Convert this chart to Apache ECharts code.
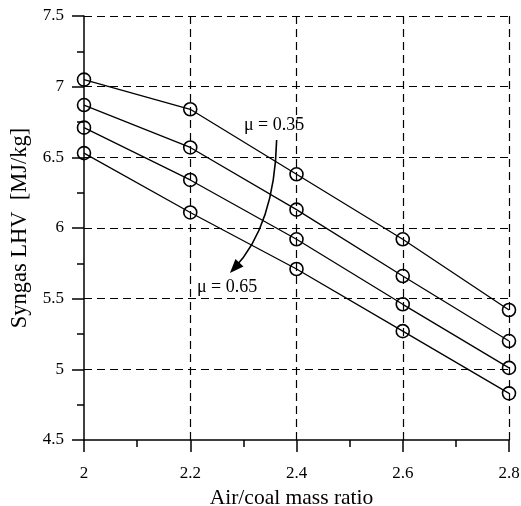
<!DOCTYPE html>
<html><head><meta charset="utf-8">
<script src="https://cdn.jsdelivr.net/npm/echarts@6/dist/echarts.min.js"></script>
<style>html,body{margin:0;padding:0;background:#fff}#c{width:521px;height:506px}</style>
</head><body><div id="c"></div>
<script>
const xValues = [2, 2.2, 2.4, 2.6, 2.8];
const mu035 = [7.05, 6.84, 6.38, 5.92, 5.42];
const mu045 = [6.87, 6.57, 6.13, 5.66, 5.20];
const mu055 = [6.71, 6.34, 5.92, 5.46, 5.01];
const mu065 = [6.53, 6.11, 5.71, 5.27, 4.83];
const seriesNames = ['μ = 0.35', 'μ = 0.45', 'μ = 0.55', 'μ = 0.65'];
const seriesValues = [mu035, mu045, mu055, mu065];
const xTitle = 'Air/coal mass ratio';
const yTitle = 'Syngas LHV  [MJ/kg]';
const topLabel = 'μ = 0.35';
const bottomLabel = 'μ = 0.65';

const FONT = '"Liberation Serif", "DejaVu Serif", serif';
const chart = echarts.init(document.getElementById('c'), null, {renderer: 'canvas'});
const dash = {color: '#000', width: 1.2, type: [8, 5]};
const axisCommon = {
  axisLine: {show: true, onZero: false, lineStyle: {color: '#000', width: 1.5}},
  axisTick: {show: true, length: 12, lineStyle: {color: '#000', width: 1.5}},
  minorTick: {show: true, splitNumber: 2, length: 7, lineStyle: {color: '#000', width: 1.5}},
  splitLine: {show: true, showMinLine: false, lineStyle: dash},
  axisLabel: {color: '#000', fontFamily: FONT, fontSize: 17},
  nameLocation: 'middle'
};
chart.setOption({
  animation: false,
  backgroundColor: '#fff',
  grid: {left: 84, right: 12, top: 16, bottom: 66, containLabel: false, outerBoundsMode: 'none'},
  xAxis: Object.assign({}, axisCommon, {
    type: 'value', min: 2, max: 2.8, interval: 0.2,
    name: xTitle, nameGap: 41,
    nameTextStyle: {color: '#000', fontFamily: FONT, fontSize: 21.5, padding: [0, 10, 0, 0]},
    axisLabel: Object.assign({}, axisCommon.axisLabel, {margin: 25})
  }),
  yAxis: Object.assign({}, axisCommon, {
    type: 'value', min: 4.5, max: 7.5, interval: 0.5,
    name: yTitle, nameGap: 51,
    nameTextStyle: {color: '#000', fontFamily: FONT, fontSize: 22.5},
    axisLabel: Object.assign({}, axisCommon.axisLabel, {margin: 20})
  }),
  series: seriesValues.map((vals, i) => ({
    name: seriesNames[i],
    type: 'line',
    data: xValues.map((x, j) => [x, vals[j]]),
    symbol: 'circle',
    symbolSize: 13,
    clip: false,
    lineStyle: {color: '#000', width: 1.3},
    itemStyle: {color: 'rgba(0,0,0,0)', borderColor: '#000', borderWidth: 1.6},
    z: 3
  }))
});

// annotations placed in data coordinates
function px(x, y) { return chart.convertToPixel({gridIndex: 0}, [x, y]); }
const aStart = px(2.3626, 6.623);
const aCtrl = px(2.359, 6.022);
const aEnd = px(2.2747, 5.682);
const dx = aEnd[0] - aCtrl[0], dy = aEnd[1] - aCtrl[1];
const len = Math.hypot(dx, dy), ux = dx / len, uy = dy / len;
const hl = 14, hw = 5.5;
const base = [aEnd[0] - ux * hl, aEnd[1] - uy * hl];
const lineEnd = [aEnd[0] - ux * 6, aEnd[1] - uy * 6];
const p35 = px(2.301, 6.729);
const p65 = px(2.2125, 5.583);
chart.setOption({
  graphic: [
    {type: 'bezierCurve', shape: {x1: aStart[0], y1: aStart[1], cpx1: aCtrl[0], cpy1: aCtrl[1], x2: lineEnd[0], y2: lineEnd[1]},
     style: {stroke: '#000', lineWidth: 1.6, fill: null}, z: 10},
    {type: 'polygon', shape: {points: [aEnd, [base[0] - uy * hw, base[1] + ux * hw], [base[0] + uy * hw, base[1] - ux * hw]]},
     style: {fill: '#000'}, z: 10},
    {type: 'text', x: p35[0], y: p35[1], style: {text: topLabel, font: '18px ' + FONT, fill: '#000', verticalAlign: 'middle'}, z: 10},
    {type: 'text', x: p65[0], y: p65[1], style: {text: bottomLabel, font: '18px ' + FONT, fill: '#000', verticalAlign: 'middle'}, z: 10}
  ]
});
</script></body></html>
